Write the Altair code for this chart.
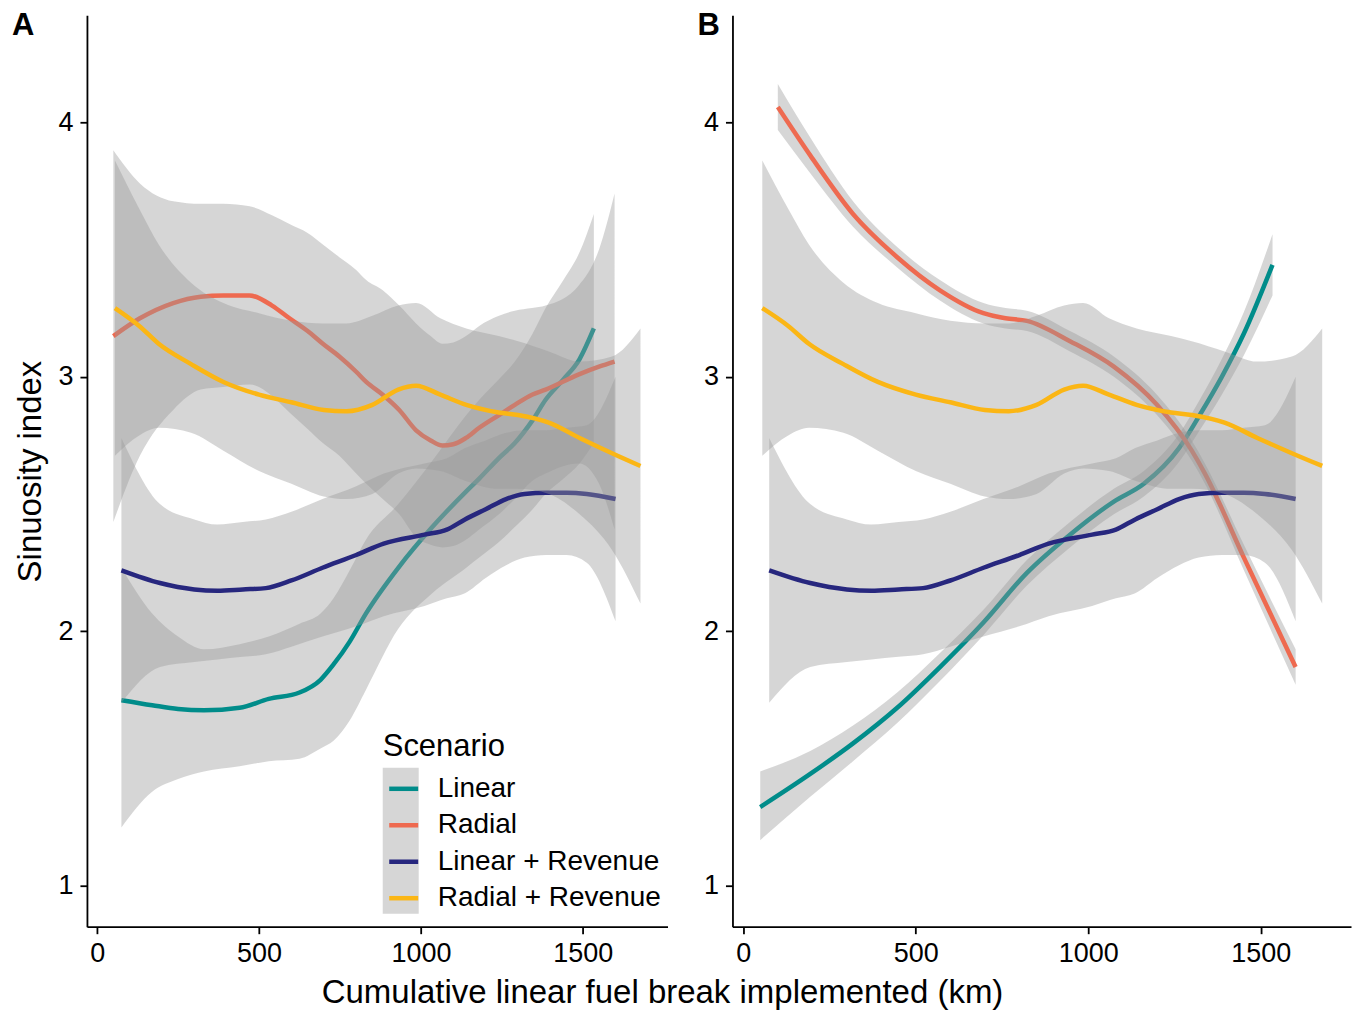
import altair as alt
import pandas as pd

# ---------------- data ----------------
SCENARIOS = ["Linear", "Radial", "Linear + Revenue", "Radial + Revenue"]
COLORS = ["#008C8A", "#EE6A50", "#27277E", "#FBB615"]
X_TICKS = [0, 500, 1000, 1500]
Y_TICKS = [1, 2, 3, 4]
X_DOMAIN = [-31.5, 1761.5]
Y_DOMAIN = [0.84, 4.42]

# Panel A - Linear
A_LIN_X = [75, 170, 250, 330, 440, 530, 625, 690, 730, 780, 830, 930, 1035, 1140, 1180, 1240, 1290, 1345, 1385, 1440, 1490, 1534]
A_LIN_Y = [1.73, 1.71, 1.695, 1.69, 1.70, 1.735, 1.76, 1.81, 1.87, 1.96, 2.07, 2.25, 2.41, 2.55, 2.60, 2.68, 2.74, 2.83, 2.91, 2.99, 3.07, 3.19]
A_LIN_LO = [1.23, 1.37, 1.42, 1.45, 1.47, 1.49, 1.50, 1.54, 1.57, 1.65, 1.77, 2.01, 2.15, 2.25, 2.29, 2.35, 2.41, 2.48, 2.54, 2.60, 2.66, 2.74]
A_LIN_HI = [2.25, 2.07, 1.98, 1.93, 1.95, 1.98, 2.03, 2.07, 2.13, 2.24, 2.36, 2.50, 2.67, 2.85, 2.91, 2.99, 3.06, 3.17, 3.27, 3.38, 3.49, 3.64]

# Panel A - Radial
A_RAD_X = [50, 132, 235, 320, 389, 471, 540, 594, 650, 697, 748, 800, 831, 882, 933, 985, 1030, 1066, 1100, 1139, 1180, 1241, 1290, 1343, 1385, 1488, 1550, 1598]
A_RAD_Y = [3.16, 3.23, 3.29, 3.315, 3.32, 3.32, 3.28, 3.23, 3.18, 3.13, 3.08, 3.02, 2.98, 2.93, 2.87, 2.79, 2.75, 2.73, 2.735, 2.76, 2.80, 2.85, 2.89, 2.93, 2.95, 3.01, 3.04, 3.06]
A_RAD_LO = [2.43, 2.69, 2.87, 2.95, 2.96, 2.97, 2.925, 2.86, 2.795, 2.74, 2.69, 2.62, 2.58, 2.52, 2.46, 2.37, 2.34, 2.33, 2.335, 2.36, 2.40, 2.46, 2.52, 2.59, 2.62, 2.66, 2.58, 2.40]
A_RAD_HI = [3.89, 3.76, 3.69, 3.68, 3.68, 3.67, 3.635, 3.60, 3.565, 3.52, 3.47, 3.42, 3.38, 3.34, 3.28, 3.21, 3.16, 3.13, 3.135, 3.16, 3.20, 3.24, 3.26, 3.27, 3.28, 3.36, 3.50, 3.72]

# Linear + Revenue (same in both panels)
LR_X = [75, 194, 300, 371, 450, 521, 600, 696, 800, 885, 1011, 1080, 1136, 1200, 1263, 1320, 1387, 1450, 1512, 1601]
LR_Y = [2.24, 2.19, 2.165, 2.16, 2.165, 2.17, 2.20, 2.25, 2.30, 2.345, 2.38, 2.40, 2.44, 2.48, 2.52, 2.54, 2.545, 2.545, 2.54, 2.52]
LR_LO = [1.72, 1.86, 1.88, 1.89, 1.90, 1.91, 1.94, 1.98, 2.02, 2.06, 2.10, 2.13, 2.15, 2.21, 2.26, 2.29, 2.30, 2.30, 2.27, 2.04]
LR_HI = [2.76, 2.50, 2.44, 2.42, 2.43, 2.44, 2.47, 2.52, 2.57, 2.62, 2.66, 2.68, 2.72, 2.75, 2.78, 2.79, 2.79, 2.80, 2.81, 3.00]

# Radial + Revenue (same in both panels)
RR_X = [55, 130, 190, 290, 390, 500, 600, 700, 770, 850, 930, 985, 1060, 1140, 1240, 1300, 1395, 1490, 1590, 1678]
RR_Y = [3.27, 3.20, 3.13, 3.05, 2.98, 2.93, 2.90, 2.87, 2.865, 2.89, 2.95, 2.965, 2.93, 2.89, 2.86, 2.85, 2.82, 2.76, 2.70, 2.65]
RR_LO = [2.69, 2.77, 2.80, 2.78, 2.71, 2.63, 2.58, 2.53, 2.52, 2.54, 2.62, 2.64, 2.63, 2.59, 2.56, 2.56, 2.54, 2.46, 2.32, 2.11]
RR_HI = [3.85, 3.66, 3.52, 3.37, 3.29, 3.25, 3.22, 3.21, 3.21, 3.24, 3.28, 3.29, 3.23, 3.19, 3.16, 3.14, 3.10, 3.06, 3.08, 3.19]

# Panel B - Linear
B_LIN_X = [49, 194, 318, 446, 570, 696, 822, 947, 1074, 1161, 1263, 1323, 1387, 1451, 1534]
B_LIN_Y = [1.31, 1.44, 1.56, 1.70, 1.86, 2.035, 2.23, 2.38, 2.51, 2.58, 2.72, 2.85, 3.00, 3.17, 3.44]
B_LIN_LO = [1.18, 1.35, 1.49, 1.64, 1.805, 1.985, 2.18, 2.33, 2.46, 2.53, 2.665, 2.79, 2.93, 3.085, 3.32]
B_LIN_HI = [1.45, 1.53, 1.63, 1.76, 1.915, 2.085, 2.28, 2.43, 2.56, 2.63, 2.775, 2.91, 3.07, 3.255, 3.56]

# Panel B - Radial
B_RAD_X = [100, 194, 318, 446, 570, 696, 760, 822, 947, 1074, 1199, 1300, 1338, 1451, 1601]
B_RAD_Y = [4.06, 3.87, 3.64, 3.47, 3.34, 3.25, 3.23, 3.22, 3.14, 3.04, 2.89, 2.71, 2.62, 2.29, 1.86]
B_RAD_LO = [3.97, 3.80, 3.59, 3.43, 3.30, 3.21, 3.19, 3.18, 3.10, 3.00, 2.85, 2.67, 2.58, 2.24, 1.79]
B_RAD_HI = [4.15, 3.94, 3.69, 3.51, 3.38, 3.29, 3.27, 3.26, 3.18, 3.08, 2.93, 2.75, 2.66, 2.34, 1.93]

PANEL_A = [
    ("Linear", A_LIN_X, A_LIN_Y, A_LIN_LO, A_LIN_HI),
    ("Radial", A_RAD_X, A_RAD_Y, A_RAD_LO, A_RAD_HI),
    ("Linear + Revenue", LR_X, LR_Y, LR_LO, LR_HI),
    ("Radial + Revenue", RR_X, RR_Y, RR_LO, RR_HI),
]
PANEL_B = [
    ("Linear", B_LIN_X, B_LIN_Y, B_LIN_LO, B_LIN_HI),
    ("Radial", B_RAD_X, B_RAD_Y, B_RAD_LO, B_RAD_HI),
    ("Linear + Revenue", LR_X, LR_Y, LR_LO, LR_HI),
    ("Radial + Revenue", RR_X, RR_Y, RR_LO, RR_HI),
]

FONT = "Liberation Sans"
HEIGHT = 912

x_scale = alt.Scale(domain=X_DOMAIN, nice=False, zero=False)
y_scale = alt.Scale(domain=Y_DOMAIN, nice=False, zero=False)
color_scale = alt.Scale(domain=SCENARIOS, range=COLORS)


def make_panel(series_list, width, tag, tag_x, with_title, legend):
    x_axis = alt.Axis(values=X_TICKS, title=None, format="d", labelPadding=7)
    if with_title:
        y_axis = alt.Axis(values=Y_TICKS, title="Sinuosity index", labelPadding=7,
                          titleX=-46, titleY=HEIGHT / 2, titleAngle=270,
                          titleAlign="center", titleBaseline="alphabetic",
                          titleFontSize=33, titleFontWeight="normal", titleColor="black")
    else:
        y_axis = alt.Axis(values=Y_TICKS, title=None, labelPadding=7)
    layers = []
    for name, xs, ys, los, his in series_list:
        df = pd.DataFrame({"series": name, "x": xs, "y": ys, "lo": los, "hi": his})
        base = alt.Chart(df)
        band = base.mark_area(interpolate="monotone", color="#999999", opacity=0.4).encode(
            x=alt.X("x:Q", scale=x_scale, axis=x_axis),
            y=alt.Y("lo:Q", scale=y_scale, axis=y_axis),
            y2="hi:Q",
        )
        line = base.mark_line(interpolate="monotone", strokeWidth=4.5).encode(
            x=alt.X("x:Q", scale=x_scale, axis=x_axis),
            y=alt.Y("y:Q", scale=y_scale, axis=y_axis),
            color=alt.Color("series:N", scale=color_scale, legend=legend),
        )
        layers += [band, line]
    if legend is not None:
        key_bg = alt.Chart(alt.Data(values=[{"k": 1}])).mark_rect(color="#D6D6D6").encode(
            x=alt.value(296), x2=alt.value(332), y=alt.value(753), y2=alt.value(899)
        )
        layers.append(key_bg)
    tag_layer = alt.Chart(alt.Data(values=[{"tag": tag}])).mark_text(
        align="left", baseline="alphabetic", fontSize=31, fontWeight="bold", font=FONT, color="black"
    ).encode(text="tag:N", x=alt.value(tag_x), y=alt.value(20))
    layers.append(tag_layer)
    return alt.layer(*layers).properties(width=width, height=HEIGHT)


legend_a = alt.Legend(
    orient="none", legendX=296, legendY=717, title="Scenario",
    titleFontSize=31, titleFontWeight="normal", titleColor="black", titleFont=FONT,
    titlePadding=9, labelFontSize=28, labelColor="black", labelFont=FONT,
    symbolType="stroke", symbolStrokeWidth=4.5, symbolSize=841,
    symbolOffset=4, labelOffset=17, rowPadding=5.5, padding=0, labelLimit=400,
)

panel_a = make_panel(PANEL_A, 581, "A", -75, True, legend_a)
panel_b = make_panel(PANEL_B, 619, "B", -35, False, None)

chart = (
    alt.hconcat(panel_a, panel_b, spacing=30)
    .resolve_scale(color="independent")
    .properties(
        title=alt.TitleParams(
            text="Cumulative linear fuel break implemented (km)", orient="bottom",
            anchor="middle", fontSize=33, fontWeight="normal", font=FONT,
            color="black", offset=10, dx=-19,
        ),
        padding={"left": 4, "top": 2, "right": 2, "bottom": 0},
    )
    .configure(font=FONT)
    .configure_view(stroke=None)
    .configure_axis(
        domainColor="black", domainWidth=1.8, tickColor="black", tickWidth=1.8,
        tickSize=7, labelFontSize=27, labelColor="black", labelFont=FONT, grid=False,
    )
)

chart.save("out.html", embed_options={"renderer": "svg", "actions": False})
